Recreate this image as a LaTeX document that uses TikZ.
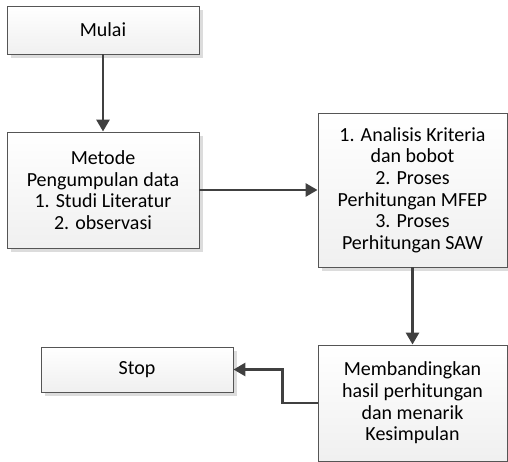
\documentclass[tikz,border=0pt]{standalone}
\usepackage{fontspec}
\setmainfont{Carlito}
\usetikzlibrary{arrows.meta,shadows}
\definecolor{BoxLine}{RGB}{85,85,85}
\definecolor{ArrowClr}{RGB}{64,64,64}
\definecolor{ShadowClr}{RGB}{220,220,220}

\begin{document}
\begin{tikzpicture}[x=1pt,y=-1pt,
  box/.style={draw=BoxLine,line width=0.9pt,top color=white,bottom color=gray!12,
    drop shadow={shadow xshift=4pt,shadow yshift=-4pt,fill=ShadowClr,opacity=1},
    align=center,inner sep=2pt,font=\fontsize{20}{21.6}\selectfont},
  flow/.style={draw=ArrowClr,line width=2.8pt,-{Triangle[length=12pt,width=13pt]}}]
\useasboundingbox (0,0) rectangle (508,462);

\node[box,minimum width=192pt,minimum height=48pt] (mulai) at (103,30) {Mulai};
\node[box,minimum width=192pt,minimum height=116pt] (metode) at (103,190)
  {Metode\\Pengumpulan data\\1. Studi Literatur\\2. observasi};
\node[box,minimum width=189pt,minimum height=154pt] (proses) at (412.5,190)
  {1. Analisis Kriteria\\dan bobot\\2. Proses\\Perhitungan MFEP\\3. Proses\\Perhitungan SAW};
\node[box,minimum width=189pt,minimum height=116pt] (banding) at (412.5,403)
  {Membandingkan\\hasil perhitungan\\dan menarik\\Kesimpulan};
\node[box,minimum width=192pt,minimum height=45pt] (stop) at (137,369.5) {Stop};

\draw[flow] (mulai) -- (metode);
\draw[flow] (metode) -- (proses);
\draw[flow] (proses) -- (banding);
\draw[flow] (banding.west) -- ++(-35,0) |- (stop.east);

\end{tikzpicture}
\end{document}
